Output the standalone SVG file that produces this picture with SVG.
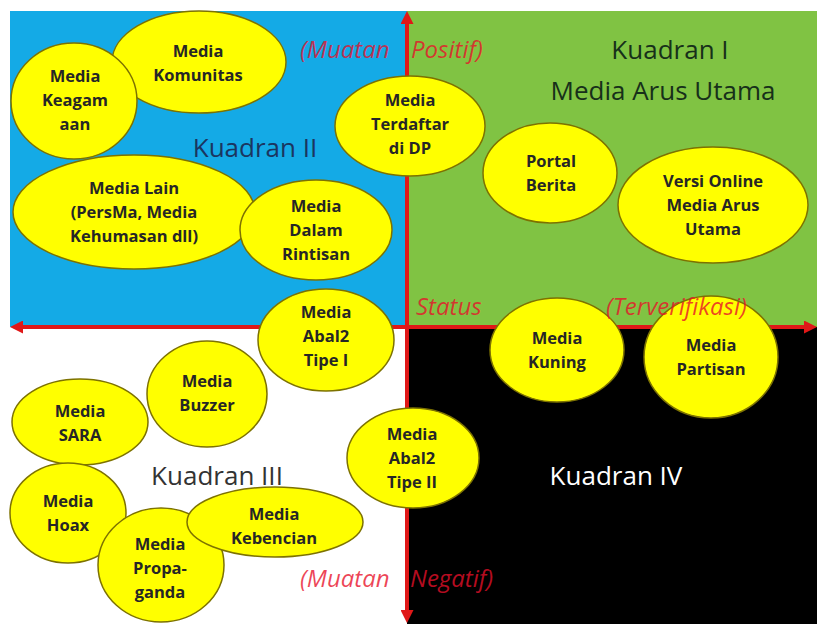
<svg xmlns="http://www.w3.org/2000/svg" width="817" height="624" viewBox="0 0 817 624">
<defs>
<style>
.node ellipse{fill:#ffff00;stroke:#7d7200;stroke-width:1.5}
.node text{font-family:"Open Sans","Liberation Sans",sans-serif;font-weight:700;font-size:16.5px;fill:#262626;text-anchor:middle}
.quad{font-family:"Open Sans","Liberation Sans",sans-serif;font-size:26px;text-anchor:middle}
.axlab{font-family:"Open Sans","Liberation Sans",sans-serif;font-style:italic;font-size:24px;fill:#e8102a;fill-opacity:0.78}
.axis{stroke:#e01818;stroke-width:4;fill:none}
</style>
<marker id="arr" markerUnits="userSpaceOnUse" markerWidth="13" markerHeight="13" refX="0" refY="6.5" orient="auto-start-reverse" viewBox="0 0 13 13">
<path d="M0,0 L13,6.5 L0,13 z" fill="#e01818"/>
</marker>
</defs>
<rect x="0" y="0" width="817" height="624" fill="#ffffff"/>
<g id="backgrounds">
<rect x="10" y="11" width="397" height="316" fill="#14aae6"/>
<rect x="407" y="11" width="410" height="316" fill="#80c343"/>
<rect x="10" y="327" width="397" height="297" fill="#ffffff"/>
<rect x="407" y="327" width="410" height="297" fill="#000000"/>
</g>
<g id="connectors">
<line class="axis" x1="407" y1="610" x2="407" y2="24" marker-start="url(#arr)" marker-end="url(#arr)"/>
<line class="axis" x1="23" y1="327" x2="804" y2="327" marker-start="url(#arr)" marker-end="url(#arr)"/>
</g>
<g id="n-komunitas" class="node"><ellipse cx="199" cy="62" rx="87" ry="51"/><text x="198" y="57">Media</text><text x="198" y="81">Komunitas</text></g>
<g id="n-keagamaan" class="node"><ellipse cx="74" cy="101" rx="63" ry="58"/><text x="75" y="82">Media</text><text x="75" y="106">Keagam</text><text x="75" y="130">aan</text></g>
<g id="n-lain" class="node"><ellipse cx="134" cy="212" rx="121" ry="57"/><text x="134" y="194">Media Lain</text><text x="134" y="218">(PersMa, Media</text><text x="134" y="242">Kehumasan dll)</text></g>
<g id="n-rintisan" class="node"><ellipse cx="316" cy="230" rx="76" ry="50"/><text x="316" y="212">Media</text><text x="316" y="236">Dalam</text><text x="316" y="260">Rintisan</text></g>
<g id="n-terdaftar" class="node"><ellipse cx="410" cy="126" rx="75" ry="50"/><text x="410" y="106">Media</text><text x="410" y="130">Terdaftar</text><text x="410" y="154">di DP</text></g>
<g id="n-portal" class="node"><ellipse cx="550" cy="173" rx="67" ry="50"/><text x="551" y="167">Portal</text><text x="551" y="191">Berita</text></g>
<g id="n-versi" class="node"><ellipse cx="713" cy="205" rx="95" ry="58"/><text x="713" y="187">Versi Online</text><text x="713" y="211">Media Arus</text><text x="713" y="235">Utama</text></g>
<g id="n-abal1" class="node"><ellipse cx="326" cy="340" rx="68" ry="51"/><text x="326" y="318">Media</text><text x="326" y="342">Abal2</text><text x="326" y="366">Tipe I</text></g>
<g id="n-buzzer" class="node"><ellipse cx="207" cy="394" rx="60" ry="53"/><text x="207" y="387">Media</text><text x="207" y="411">Buzzer</text></g>
<g id="n-sara" class="node"><ellipse cx="80" cy="422" rx="68" ry="43"/><text x="80" y="417">Media</text><text x="80" y="441">SARA</text></g>
<g id="n-hoax" class="node"><ellipse cx="68" cy="513" rx="58" ry="50"/><text x="68" y="507">Media</text><text x="68" y="531">Hoax</text></g>
<g id="n-propaganda" class="node"><ellipse cx="161" cy="565" rx="63" ry="57"/><text x="160" y="550">Media</text><text x="160" y="574">Propa-</text><text x="160" y="598">ganda</text></g>
<g id="n-kebencian" class="node"><ellipse cx="275" cy="522" rx="88" ry="35"/><text x="274" y="520">Media</text><text x="274" y="544">Kebencian</text></g>
<g id="n-abal2" class="node"><ellipse cx="413" cy="458" rx="66" ry="50"/><text x="412" y="440">Media</text><text x="412" y="464">Abal2</text><text x="412" y="488">Tipe II</text></g>
<g id="n-kuning" class="node"><ellipse cx="557" cy="350" rx="67" ry="52"/><text x="557" y="344">Media</text><text x="557" y="368">Kuning</text></g>
<g id="n-partisan" class="node"><ellipse cx="711" cy="357" rx="67" ry="61"/><text x="711" y="351">Media</text><text x="711" y="375">Partisan</text></g>
<g id="labels">
<text class="quad" x="255" y="157" fill="#1b3560">Kuadran II</text>
<text class="quad" x="670" y="59" fill="#17301a">Kuadran I</text>
<text class="quad" x="663" y="100" fill="#17301a">Media Arus Utama</text>
<text class="quad" x="217" y="485" fill="#333333">Kuadran III</text>
<text class="quad" x="616" y="485" fill="#ffffff">Kuadran IV</text>
<text class="axlab" x="300" y="58">(Muatan</text>
<text class="axlab" x="411" y="58">Positif)</text>
<text class="axlab" x="416" y="315">Status</text>
<text class="axlab" x="606" y="315">(Terverifikasi)</text>
<text class="axlab" x="300" y="587">(Muatan</text>
<text class="axlab" x="410" y="587">Negatif)</text>
</g>
</svg>
